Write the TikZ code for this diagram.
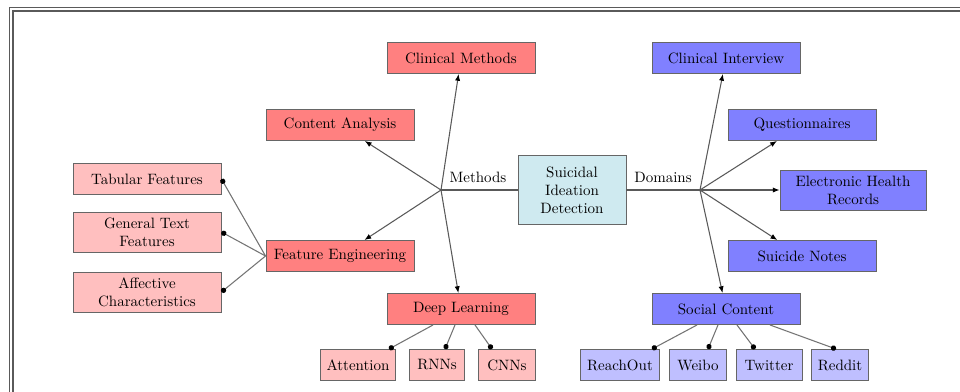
\documentclass[tikz,border=0pt]{standalone}
\usetikzlibrary{arrows.meta}
\usetikzlibrary{positioning}
\usetikzlibrary{calc}

\definecolor{sidfill}{RGB}{207,234,240}
\definecolor{framegray}{RGB}{90,90,90}

\begin{document}
\begin{tikzpicture}[x=0.6667pt,y=-0.6667pt,
  box/.style={draw=black!60,line width=0.6pt,minimum width=98.7pt,minimum height=20.7pt,align=center,inner sep=2pt},
  methbox/.style={box,fill=red!50},
  methleaf/.style={box,fill=red!25},
  dombox/.style={box,fill=blue!50},
  domleaf/.style={box,fill=blue!25},
  smallleaf/.style={draw=black!60,line width=0.6pt,minimum height=20.7pt,inner xsep=4pt,inner ysep=2pt},
  hubarrow/.style={black!65,line width=0.7pt,-{Latex[length=4.5pt,width=3.5pt,black]}},
  leafline/.style={black!55,line width=0.7pt,-{Circle[length=3.5pt,black]}}]
\clip (0,0) rectangle (960,391);
\fill[white] (0,0) rectangle (960,391);
% frame
\draw[framegray,line width=1.2pt] (9.5,400) -- (9.5,7.5) -- (970,7.5);
\draw[framegray,line width=0.7pt] (13,400) -- (13,11) -- (970,11);

% centre
\node[draw=black!60,line width=0.6pt,fill=sidfill,minimum width=72pt,minimum height=46pt,align=center] (sid) at (572,190) {Suicidal\\Ideation\\Detection};
\coordinate (mhub) at (441,190);
\coordinate (dhub) at (700,190);
\draw[black!65,line width=0.7pt] (sid.west) -- (mhub);
\draw[black!65,line width=0.7pt] (sid.east) -- (dhub);
\node (methlbl) at (478,177) {Methods};
\node (domlbl) at (663,177) {Domains};

% methods
\node[methbox] (clinmeth) at (461,58) {Clinical Methods};
\node[methbox] (content) at (340,125) {Content Analysis};
\node[methbox] (feateng) at (340,256) {Feature Engineering};
\node[methbox] (deeplrn) at (461,309) {Deep Learning};
\foreach \n in {clinmeth,content,feateng,deeplrn}
  \draw[hubarrow] (mhub) -- (\n);

\node[methleaf] (tabular) at (147,179) {Tabular Features};
\node[methleaf,minimum height=26.7pt] (gentext) at (147,232) {General Text\\Features};
\node[methleaf,minimum height=26.7pt] (affect) at (147,292) {Affective\\Characteristics};
\foreach \n in {tabular,gentext,affect}
  \draw[leafline] (feateng.west) -- (\n.east);

\node[smallleaf,fill=red!25,minimum width=49pt] (attn) at (358,365) {Attention};
\node[smallleaf,fill=red!25,minimum width=37pt] (rnns) at (437,365) {RNNs};
\node[smallleaf,fill=red!25,minimum width=38pt] (cnns) at (507,365) {CNNs};
\draw[leafline] ($(deeplrn.south)+(-28,0)$) -- ($(attn.north)+(31,0)$);
\draw[leafline] ($(deeplrn.south)+(-6,0)$) -- ($(rnns.north)+(8,0)$);
\draw[leafline] ($(deeplrn.south)+(14,0)$) -- ($(cnns.north)+(-15,0)$);

% domains
\node[dombox] (clinint) at (726,58) {Clinical Interview};
\node[dombox] (quest) at (802,125) {Questionnaires};
\node[dombox,minimum width=97.3pt,minimum height=26.7pt] (ehr) at (853,190) {Electronic Health\\Records};
\node[dombox] (notes) at (802,256) {Suicide Notes};
\node[dombox] (social) at (726,309) {Social Content};
\foreach \n in {clinint,quest,ehr,notes,social}
  \draw[hubarrow] (dhub) -- (\n);

\node[smallleaf,fill=blue!25,minimum width=52.7pt] (reach) at (620,365) {ReachOut};
\node[smallleaf,fill=blue!25,minimum width=38pt] (weibo) at (698,365) {Weibo};
\node[smallleaf,fill=blue!25,minimum width=44pt] (twitter) at (769,365) {Twitter};
\node[smallleaf,fill=blue!25,minimum width=37.3pt] (reddit) at (840,365) {Reddit};
\draw[leafline] ($(social.south)+(-29,0)$) -- ($(reach.north)+(32,0)$);
\draw[leafline] ($(social.south)+(-8,0)$) -- ($(weibo.north)+(10,0)$);
\draw[leafline] ($(social.south)+(11,0)$) -- ($(twitter.north)+(-14,0)$);
\draw[leafline] ($(social.south)+(44,0)$) -- ($(reddit.north)+(-4,0)$);

\end{tikzpicture}
\end{document}
